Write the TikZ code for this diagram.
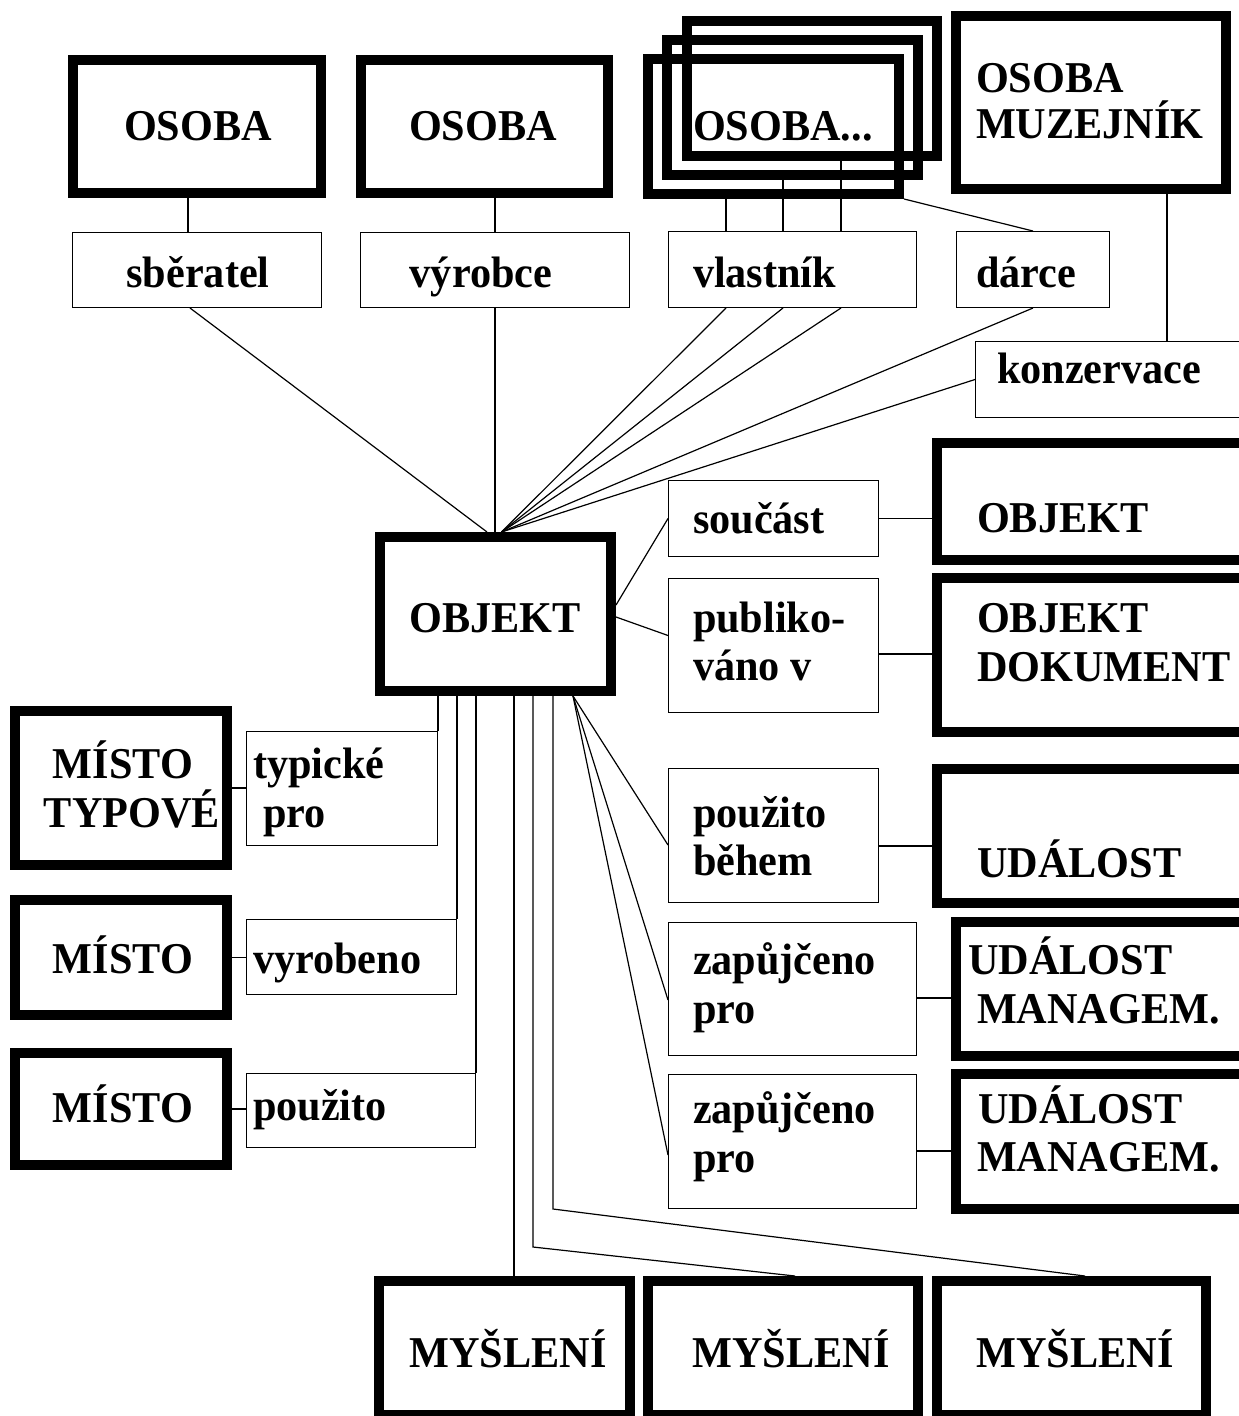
\documentclass[tikz,border=0pt]{standalone}
\usepackage{fontspec}
\newfontfamily\lab{Liberation Serif}[FakeStretch=0.96]
\tikzset{
  heavy/.style={draw, line width=10pt, inner sep=0pt},
  light/.style={draw, line width=1.2pt, inner sep=0pt},
  wire/.style={line width=1.2pt},
  lbl/.style={font=\lab\bfseries\fontsize{44}{49}\selectfont, inner sep=0pt, outer sep=0pt},
}
% box from its outer corners: name, x1, y1, x2, y2
\newcommand\tkbox[5]{\node[heavy, minimum width={#4-#2-10}, minimum height={#5-#3-10}] (#1) at ({(#2+#4)/2},{(#3+#5)/2}) {};}
\newcommand\tnbox[5]{\node[light, minimum width={#4-#2-1.2}, minimum height={#5-#3-1.2}] (#1) at ({(#2+#4)/2},{(#3+#5)/2}) {};}
\begin{document}
\begin{tikzpicture}[x=1pt, y=-1pt]
\fill[white] (0,0) rectangle (1239,1416);
\useasboundingbox (0,0) rectangle (1239,1416);

% persons
\tkbox{osobaA}{68}{55}{326}{198}
\tkbox{osobaB}{356}{55}{613}{198}
\tkbox{stackC}{682}{16}{942}{161}
\tkbox{stackB}{662}{35}{923}{180}
\tkbox{stackA}{643}{54}{904}{199}
\tkbox{muzejnik}{951}{11}{1231}{194}

% role labels
\tnbox{sberatel}{72}{232}{322}{308}
\tnbox{vyrobce}{360}{232}{630}{308}
\tnbox{vlastnik}{668}{231}{917}{308}
\tnbox{darce}{956}{231}{1110}{308}
\tnbox{konzervace}{975}{341}{1250}{418}

% central object
\tkbox{objekt}{375}{532}{616}{696}

% right column
\tnbox{soucast}{668}{480}{879}{557}
\tnbox{publik}{668}{578}{879}{713}
\tnbox{behem}{668}{768}{879}{903}
\tnbox{zapA}{668}{922}{917}{1056}
\tnbox{zapB}{668}{1074}{917}{1209}
\tkbox{objR}{932}{438}{1255}{565}
\tkbox{objDok}{932}{573}{1255}{737}
\tkbox{udalost}{932}{764}{1255}{908}
\tkbox{manA}{951}{917}{1255}{1061}
\tkbox{manB}{951}{1069}{1255}{1214}

% left column
\tkbox{mistoA}{10}{706}{232}{870}
\tkbox{mistoB}{10}{895}{232}{1020}
\tkbox{mistoC}{10}{1048}{232}{1170}
\tnbox{typicke}{246}{731}{438}{846}
\tnbox{vyrobeno}{246}{919}{457}{995}
\tnbox{pouzito}{246}{1073}{476}{1148}

% bottom row
\tkbox{myslA}{374}{1276}{635}{1420}
\tkbox{myslB}{643}{1276}{923}{1420}
\tkbox{myslC}{932}{1276}{1211}{1420}

% texts
\node[lbl, anchor=base] (tOsA) at (198,140) {OSOBA};
\node[lbl, anchor=base] (tOsB) at (483,140) {OSOBA};
\node[lbl, anchor=base west] (tOsC) at (693,140) {OSOBA...};
\node[lbl, anchor=base west] (tMz1) at (976,92) {OSOBA};
\node[lbl, anchor=base west] (tMz2) at (976,138) {MUZEJNÍK};
\node[lbl, anchor=base] (tSb) at (198,287) {sběratel};
\node[lbl, anchor=base] (tVy) at (481,287) {výrobce};
\node[lbl, anchor=base west] (tVl) at (693,287) {vlastník};
\node[lbl, anchor=base west] (tDa) at (976,287) {dárce};
\node[lbl, anchor=base west] (tKo) at (997,383) {konzervace};
\node[lbl, anchor=base] (tOb) at (495,632) {OBJEKT};
\node[lbl, anchor=base west] (tSo) at (693,533) {součást};
\node[lbl, anchor=base west] (tPu1) at (693,632) {publiko-};
\node[lbl, anchor=base west] (tPu2) at (693,680) {váno v};
\node[lbl, anchor=base west] (tBe1) at (693,827) {použito};
\node[lbl, anchor=base west] (tBe2) at (693,875) {během};
\node[lbl, anchor=base west] (tZa1) at (693,974) {zapůjčeno};
\node[lbl, anchor=base west] (tZa2) at (693,1023) {pro};
\node[lbl, anchor=base west] (tZb1) at (693,1123) {zapůjčeno};
\node[lbl, anchor=base west] (tZb2) at (693,1172) {pro};
\node[lbl, anchor=base west] (tOr) at (977,532) {OBJEKT};
\node[lbl, anchor=base west] (tOd1) at (977,632) {OBJEKT};
\node[lbl, anchor=base west] (tOd2) at (977,681) {DOKUMENT};
\node[lbl, anchor=base west] (tUd) at (977,877) {UDÁLOST};
\node[lbl, anchor=base west] (tMa1) at (968,974) {UDÁLOST};
\node[lbl, anchor=base west] (tMa2) at (977,1023) {MANAGEM.};
\node[lbl, anchor=base west] (tMb1) at (978,1123) {UDÁLOST};
\node[lbl, anchor=base west] (tMb2) at (977,1171) {MANAGEM.};
\node[lbl, anchor=base] (tMiA1) at (123,778) {MÍSTO};
\node[lbl, anchor=base] (tMiA2) at (132,827) {TYPOVÉ};
\node[lbl, anchor=base] (tMiB) at (123,973) {MÍSTO};
\node[lbl, anchor=base] (tMiC) at (123,1122) {MÍSTO};
\node[lbl, anchor=base west] (tTy1) at (253,778) {typické};
\node[lbl, anchor=base west] (tTy2) at (263,827) {pro};
\node[lbl, anchor=base west] (tVr) at (253,973) {vyrobeno};
\node[lbl, anchor=base west] (tPo) at (253,1120) {použito};
\node[lbl, anchor=base] (tMyA) at (508,1367) {MYŠLENÍ};
\node[lbl, anchor=base] (tMyB) at (791,1367) {MYŠLENÍ};
\node[lbl, anchor=base] (tMyC) at (1075,1367) {MYŠLENÍ};

% attachment points
\coordinate (sbTop) at ([xshift=-9pt]osobaA.south);
\coordinate (sbBot) at ([xshift=-7pt]sberatel.south);
\coordinate (vlA) at ([xshift=58pt]vlastnik.north west);
\coordinate (vlB) at ([xshift=115pt]vlastnik.north west);
\coordinate (vlC) at ([xshift=173pt]vlastnik.north west);
\coordinate (hubL) at ([xshift=-8.5pt]objekt.north);
\coordinate (hubR) at ([xshift=6pt]objekt.north);
\coordinate (mz) at ([xshift=76pt]muzejnik.south);
\coordinate (fan) at ([xshift=-43pt]objekt.south east);
\coordinate (puIn) at ([yshift=10pt]publik.west);
\coordinate (puOut) at ([yshift=-8.5pt]publik.east);
\coordinate (beIn) at ([yshift=-9.5pt]behem.west);
\coordinate (beOut) at ([yshift=-10.5pt]behem.east);
\coordinate (zaIn) at ([yshift=-11pt]zapA.west);
\coordinate (zaOut) at ([yshift=-9pt]zapA.east);
\coordinate (zbIn) at ([yshift=-13.5pt]zapB.west);
\coordinate (zbOut) at ([yshift=-9.5pt]zapB.east);
\coordinate (dnA) at ([xshift=18.5pt]objekt.south);
\coordinate (dnB) at ([xshift=37.5pt]objekt.south);
\coordinate (dnC) at ([xshift=57.5pt]objekt.south);
\coordinate (bendB) at (533,1247);

\begin{scope}[wire]
% persons to roles
\draw (sbTop) -- (sbTop |- sberatel.north);
\draw (vyrobce.north |- osobaB.south) -- (vyrobce.north);
\draw (vlA |- stackA.south) -- (vlA);
\draw (vlB |- stackB.south) -- (vlB);
\draw (vlC |- stackC.south) -- (vlC);
\draw (stackA.south east) -- (darce.north);
\draw (mz) -- (mz |- konzervace.north);
% roles to the object
\draw (sbBot) -- (hubL);
\draw (vyrobce.south) -- (vyrobce.south |- objekt.north);
\draw (vlA |- vlastnik.south) -- (hubR);
\draw (vlB |- vlastnik.south) -- (hubR);
\draw (vlC |- vlastnik.south) -- (hubR);
\draw (darce.south) -- (hubR);
\draw (konzervace.west) -- (hubR);
% right side
\draw ([yshift=9pt]objekt.east) -- (soucast.west);
\draw ([yshift=-3pt]objekt.east) -- (puIn);
\draw (soucast.east) -- (soucast.east -| objR.west);
\draw (puOut) -- (puOut -| objDok.west);
\draw (beOut) -- (beOut -| udalost.west);
\draw (zaOut) -- (zaOut -| manA.west);
\draw (zbOut) -- (zbOut -| manB.west);
\draw (fan) -- (beIn);
\draw (fan) -- (zaIn);
\draw (fan) -- (zbIn);
% left side
\draw (typicke.north east |- objekt.south) -- (typicke.north east);
\draw (vyrobeno.north east |- objekt.south) -- (vyrobeno.north east);
\draw (pouzito.north east |- objekt.south) -- (pouzito.north east);
\draw (mistoA.east) -- (mistoA.east -| typicke.west);
\draw (mistoB.east) -- (mistoB.east -| vyrobeno.west);
\draw (mistoC.east) -- (mistoC.east -| pouzito.west);
% bottom
\draw (dnA) -- (dnA |- myslA.north);
\draw (dnB) -- (bendB) -- ([xshift=12pt]myslB.north);
\draw (dnC) -- (dnC |- zapB.south) -- ([xshift=13.5pt]myslC.north);
\end{scope}
\end{tikzpicture}
\end{document}
